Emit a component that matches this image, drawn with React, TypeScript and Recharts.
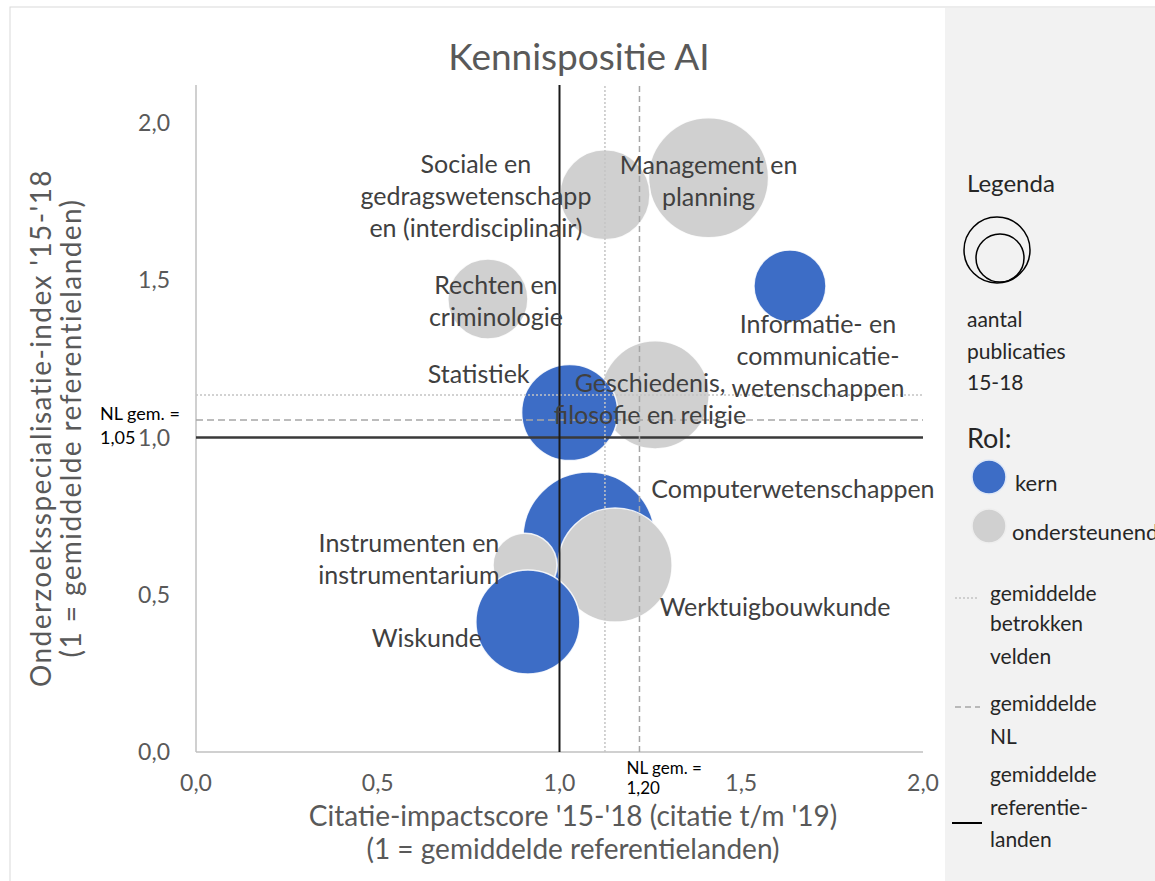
import React from "react";
import {
  ScatterChart,
  Scatter,
  XAxis,
  YAxis,
  ZAxis,
  ReferenceLine,
  Cell,
} from "recharts";

// velden, in tekenvolgorde (latere bellen liggen bovenop)
const FIELDS = [
  "Management en planning",
  "Sociale en gedragswetenschappen (interdisciplinair)",
  "Informatie- en communicatiewetenschappen",
  "Rechten en criminologie",
  "Geschiedenis, filosofie en religie",
  "Statistiek",
  "Computerwetenschappen",
  "Werktuigbouwkunde",
  "Instrumenten en instrumentarium",
  "Wiskunde",
];

const LABEL_LINES = [
  ["Management en", "planning"],
  ["Sociale en", "gedragswetenschapp", "en (interdisciplinair)"],
  ["Informatie- en", "communicatie-", "wetenschappen"],
  ["Rechten en", "criminologie"],
  ["Geschiedenis,", "filosofie en religie"],
  ["Statistiek"],
  ["Computerwetenschappen"],
  ["Werktuigbouwkunde"],
  ["Instrumenten en", "instrumentarium"],
  ["Wiskunde"],
];

const ROLES = [
  "ondersteunend",
  "ondersteunend",
  "kern",
  "ondersteunend",
  "ondersteunend",
  "kern",
  "kern",
  "ondersteunend",
  "ondersteunend",
  "kern",
];

// citatie-impactscore '15-'18
const CITATION = [1.41, 1.125, 1.634, 0.803, 1.263, 1.028, 1.081, 1.153, 0.905, 0.913];
// onderzoeksspecialisatie-index '15-'18
const SPECIALISATION = [1.825, 1.771, 1.481, 1.44, 1.135, 1.079, 0.68, 0.594, 0.594, 0.413];
// aantal publicaties 15-18 (geschat uit belgrootte)
const PUBLICATIONS = [3640, 2050, 1310, 1620, 2950, 2330, 4400, 3280, 1030, 2730];

const X_TICKS = [0, 0.5, 1, 1.5, 2];
const Y_TICKS = [0, 0.5, 1, 1.5, 2];

const REF_AVG = 1;
const NL_X = 1.22;
const FIELDS_X = 1.125;
const NL_Y = 1.055;
const FIELDS_Y = 1.135;
const NL_X_TEXT = "1,20";
const NL_Y_TEXT = "1,05";

// label offset t.o.v. middelpunt bel (px)
const LABEL_OFFSET: [number, number][] = [
  [0, 2],
  [-129, 0],
  [28, 69],
  [8, 1],
  [-5, 3],
  [-91, -40],
  [204, -50],
  [160, 41],
  [-116, -7],
  [-101, 15],
];

const BLUE = "#3d6dc6";
const GREY = "#d0d0d0";
const FONT = "Lato, 'Open Sans', sans-serif";
const TEXT = "#404040";
const AXIS_TEXT = "#595959";

const data = FIELDS.map((name, i) => ({
  name,
  idx: i,
  x: CITATION[i],
  y: SPECIALISATION[i],
  z: PUBLICATIONS[i],
  role: ROLES[i],
}));

const fmt = (v: number) => v.toFixed(1).replace(".", ",");

function BubbleLabel(props: any) {
  const { cx, cy, payload } = props;
  if (cx == null || cy == null || !payload) return null;
  const i = payload.idx;
  const lines = LABEL_LINES[i];
  const [dx, dy] = LABEL_OFFSET[i];
  const lh = 32;
  return (
    <g>
      {lines.map((line, k) => (
        <text
          key={k}
          x={cx + dx}
          y={cy + dy + (k - (lines.length - 1) / 2) * lh}
          textAnchor="middle"
          dominantBaseline="central"
          fontFamily={FONT}
          fontSize={25}
          fill={TEXT}
        >
          {line}
        </text>
      ))}
    </g>
  );
}

function NlLabelX(props: any) {
  const vb = props.viewBox;
  if (!vb) return null;
  const x = vb.x - 13;
  const y = vb.y + vb.height;
  return (
    <g fontFamily={FONT} fontSize={17} fill="#000">
      <text x={x} y={y + 15} dominantBaseline="central">NL gem. =</text>
      <text x={x} y={y + 35} dominantBaseline="central">{NL_X_TEXT}</text>
    </g>
  );
}

function NlLabelY(props: any) {
  const vb = props.viewBox;
  if (!vb) return null;
  const x = vb.x - 96;
  return (
    <g fontFamily={FONT} fontSize={18} fill="#000">
      <text x={x} y={vb.y - 7} dominantBaseline="central">NL gem. =</text>
      <text x={x} y={vb.y + 17} dominantBaseline="central">{NL_Y_TEXT}</text>
    </g>
  );
}

function Legend() {
  const lt = { fontFamily: FONT, fontSize: 21, fill: "#262626" };
  return (
    <g>
      <text x={967} y={182} dominantBaseline="central" fontFamily={FONT} fontSize={24} fill="#262626">
        Legenda
      </text>
      <circle cx={997} cy={250} r={33} fill="none" stroke="#000" strokeWidth={1.5} />
      <circle cx={1000} cy={258} r={24} fill="none" stroke="#000" strokeWidth={1.5} />
      <text x={967} y={318} dominantBaseline="central" {...lt}>aantal</text>
      <text x={967} y={350} dominantBaseline="central" {...lt}>publicaties</text>
      <text x={967} y={381} dominantBaseline="central" {...lt}>15-18</text>

      <text x={967} y={437} dominantBaseline="central" fontFamily={FONT} fontSize={27} fill="#262626">
        Rol:
      </text>
      <circle cx={989} cy={477} r={17} fill={BLUE} stroke="#dfe8f7" strokeWidth={1.5} />
      <text x={1015} y={482} dominantBaseline="central" {...lt} fontSize={22}>kern</text>
      <circle cx={989} cy={526} r={17} fill={GREY} stroke="#eeeeee" strokeWidth={1.5} />
      <text x={1012} y={531} dominantBaseline="central" {...lt} fontSize={22}>ondersteunend</text>

      <line x1={955} x2={978} y1={598} y2={598} stroke="#c4c4c4" strokeWidth={1.5} strokeDasharray="2 2" />
      <text x={990} y={592} dominantBaseline="central" {...lt}>gemiddelde</text>
      <text x={990} y={622} dominantBaseline="central" {...lt}>betrokken</text>
      <text x={990} y={655} dominantBaseline="central" {...lt}>velden</text>

      <line x1={955} x2={980} y1={707} y2={707} stroke="#a6a6a6" strokeWidth={1.5} strokeDasharray="6 4" />
      <text x={990} y={702} dominantBaseline="central" {...lt}>gemiddelde</text>
      <text x={990} y={735} dominantBaseline="central" {...lt}>NL</text>

      <line x1={952} x2={982} y1={823} y2={823} stroke="#000" strokeWidth={2} />
      <text x={990} y={773} dominantBaseline="central" {...lt}>gemiddelde</text>
      <text x={990} y={806} dominantBaseline="central" {...lt}>referentie-</text>
      <text x={990} y={838} dominantBaseline="central" {...lt}>landen</text>
    </g>
  );
}

export default function App() {
  const W = 1155;
  const H = 881;
  return (
    <div style={{ position: "absolute", left: 0, top: 0, width: W, height: H, background: "#fff", overflow: "hidden" }}>
      <svg width={W} height={H} style={{ position: "absolute", left: 0, top: 0 }}>
        <rect x={10} y={7} width={W} height={H} fill="#fff" stroke="#d9d9d9" strokeWidth={1} />
        <rect x={945} y={8} width={W - 945} height={H} fill="#f2f2f2" />
      </svg>

      <div style={{ position: "absolute", left: 0, top: 0 }}>
        <ScatterChart width={W} height={H} margin={{ top: 85, right: 232, bottom: 89, left: 136 }}>
          <XAxis
            type="number"
            dataKey="x"
            domain={[0, 2]}
            ticks={X_TICKS}
            tickFormatter={fmt}
            height={40}
            tickSize={0}
            tickMargin={23}
            tickLine={false}
            axisLine={{ stroke: "#c0c0c0", strokeWidth: 1.5 }}
            tick={{ fontFamily: FONT, fontSize: 23, fill: AXIS_TEXT }}
          />
          <YAxis
            type="number"
            dataKey="y"
            domain={[0, 2.12]}
            ticks={Y_TICKS}
            tickFormatter={fmt}
            width={60}
            tickSize={0}
            tickMargin={26}
            tickLine={false}
            axisLine={{ stroke: "#c0c0c0", strokeWidth: 1.5 }}
            tick={{ fontFamily: FONT, fontSize: 23, fill: AXIS_TEXT }}
          />
          <ZAxis type="number" dataKey="z" domain={[0, 4400]} range={[0, Math.PI * 66 * 66]} />

          <Scatter data={data} shape="circle" isAnimationActive={false}>
            {data.map((d) => (
              <Cell
                key={d.name}
                fill={d.role === "kern" ? BLUE : GREY}
                stroke="#ffffff"
                strokeOpacity={0.85}
                strokeWidth={1.5}
              />
            ))}
          </Scatter>

          <ReferenceLine
            y={FIELDS_Y}
            segment={[{ x: 0, y: FIELDS_Y }, { x: 1.97, y: FIELDS_Y }]}
            stroke="#c4c4c4"
            strokeWidth={1.5}
            strokeDasharray="2 2"
            zIndex={700}
          />
          <ReferenceLine
            y={NL_Y}
            segment={[{ x: 0, y: NL_Y }, { x: 1.945, y: NL_Y }]}
            stroke="#a6a6a6"
            strokeWidth={1.5}
            strokeDasharray="7 4"
            label={<NlLabelY />}
            zIndex={700}
          />
          <ReferenceLine
            y={REF_AVG}
            segment={[{ x: 0, y: REF_AVG }, { x: 1.972, y: REF_AVG }]}
            stroke="#3a3a3a"
            strokeWidth={2.5}
            zIndex={700}
          />
          <ReferenceLine x={FIELDS_X} stroke="#c4c4c4" strokeWidth={1.5} strokeDasharray="2 2" zIndex={700} />
          <ReferenceLine
            x={NL_X}
            stroke="#a6a6a6"
            strokeWidth={1.5}
            strokeDasharray="6 4"
            label={<NlLabelX />}
            zIndex={700}
          />
          <ReferenceLine x={REF_AVG} stroke="#1a1a1a" strokeWidth={2} zIndex={700} />

          <Scatter data={data} shape={<BubbleLabel />} isAnimationActive={false} zIndex={900} />
        </ScatterChart>
      </div>

      <svg width={W} height={H} style={{ position: "absolute", left: 0, top: 0, pointerEvents: "none" }}>
        <text x={579} y={55} textAnchor="middle" dominantBaseline="central" fontFamily={FONT} fontSize={37} fill={AXIS_TEXT}>
          Kennispositie AI
        </text>
        <g fontFamily={FONT} fontSize={28} fill={AXIS_TEXT} textAnchor="middle">
          <text x={573} y={815} dominantBaseline="central">
            Citatie-impactscore '15-'18 (citatie t/m '19)
          </text>
          <text x={573} y={848} dominantBaseline="central">
            (1 = gemiddelde referentielanden)
          </text>
        </g>
        <g fontFamily={FONT} fontSize={28} fill={AXIS_TEXT} textAnchor="middle" letterSpacing={1.4}>
          <text x={40} y={428} dominantBaseline="central" transform="rotate(-90 40 428)">
            Onderzoeksspecialisatie-index '15-'18
          </text>
          <text x={70} y={428} dominantBaseline="central" transform="rotate(-90 70 428)">
            (1 = gemiddelde referentielanden)
          </text>
        </g>
        <Legend />
      </svg>
    </div>
  );
}
